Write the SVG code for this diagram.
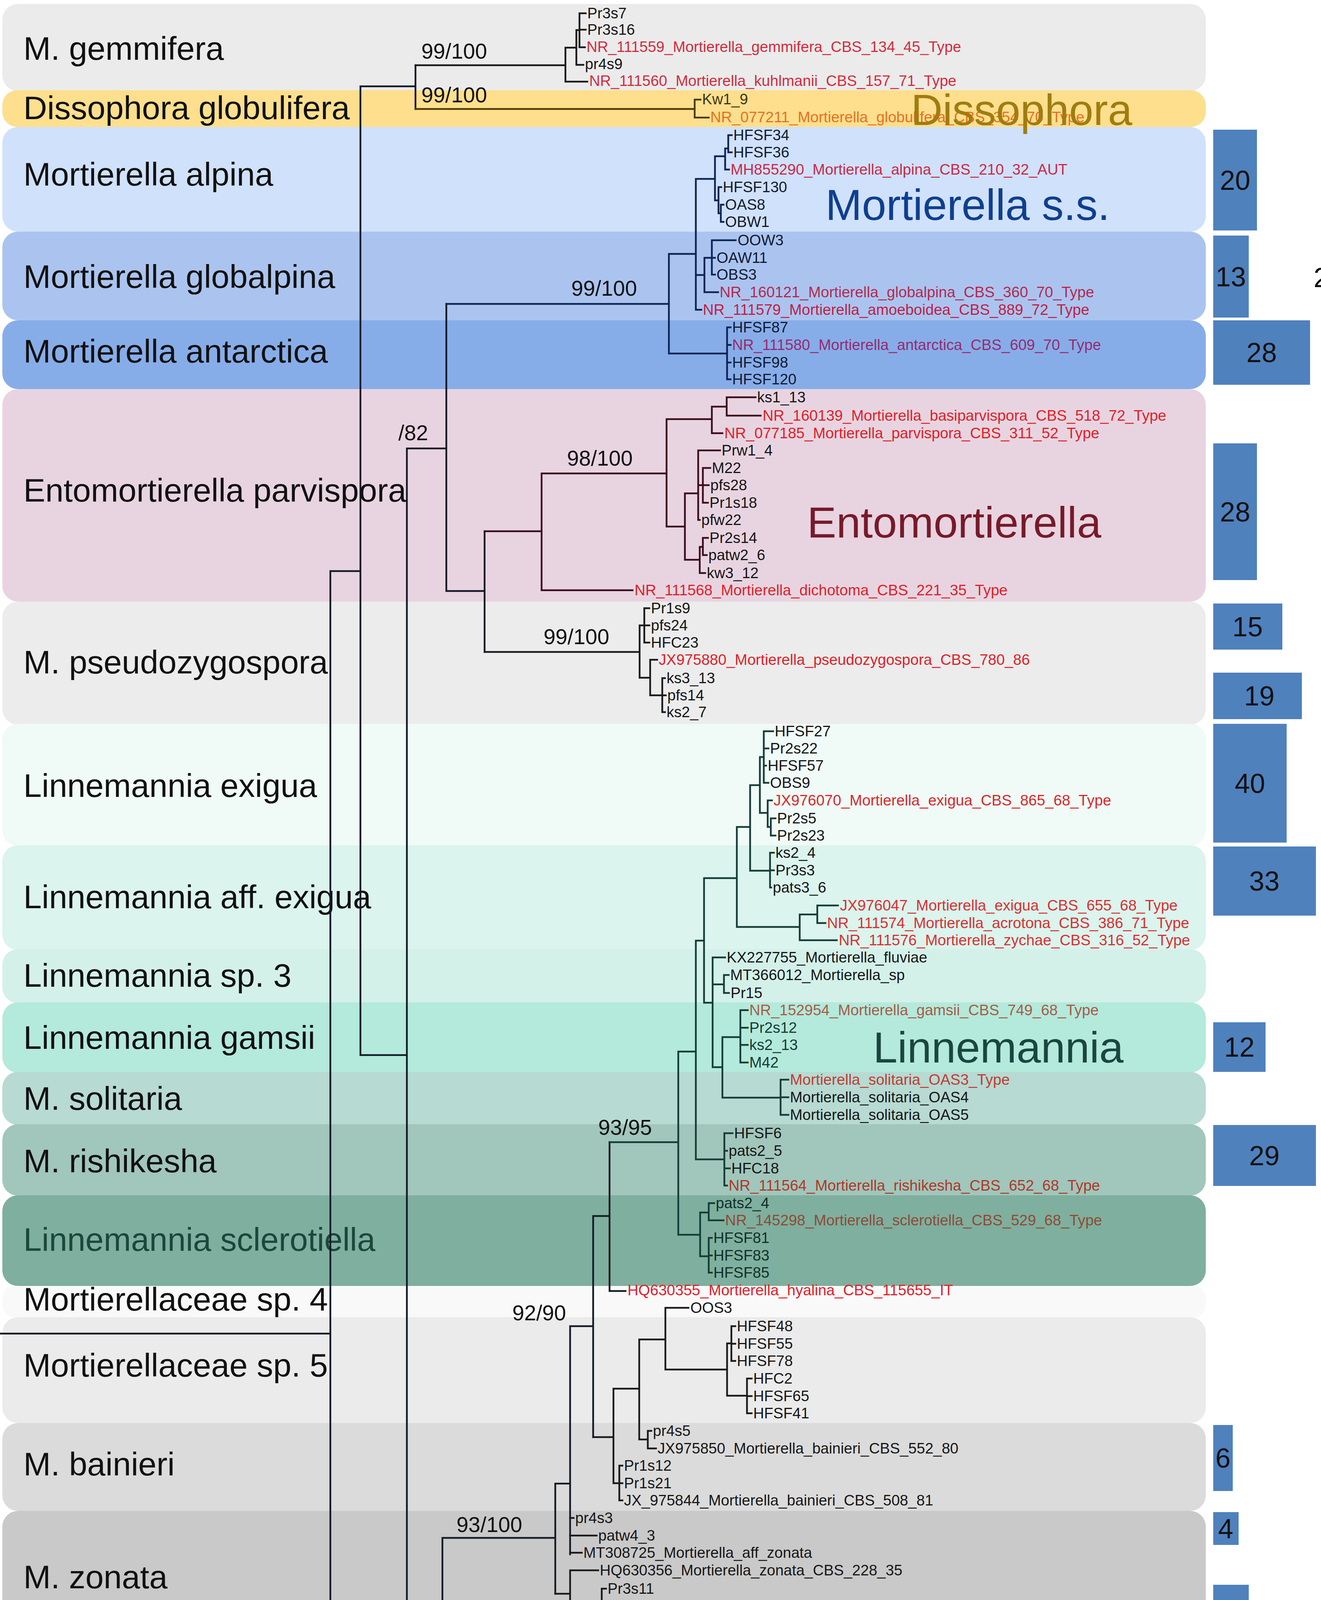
<svg xmlns="http://www.w3.org/2000/svg" width="3383" height="5843" viewBox="0 0 3383 5843">
<style>
text{font-family:"Liberation Sans",Arial,sans-serif}
.cl{font-size:84px;fill:#111}
.lf{font-size:38.5px;fill:#161616}
.sp{font-size:55px;fill:#111}
.gn{font-size:112px}
.num{font-size:70px;fill:#111;text-anchor:middle}
.bar{fill:#4f81bd}
.t{fill:none;stroke-width:4.5;stroke-linecap:square}
.r{fill:#e01e28}
</style>
<rect x="0" y="0" width="3383" height="5843" fill="#ffffff"/>
<g id="bands">
<rect x="6" y="10" width="3082" height="223" rx="40" fill="#ebebeb"/>
<rect x="6" y="231" width="3082" height="94" rx="38" fill="#fddf8d"/>
<rect x="6" y="325" width="3082" height="268" rx="40" fill="#d0e1fb"/>
<rect x="6" y="593" width="3082" height="227" rx="40" fill="#abc4ef"/>
<rect x="6" y="820" width="3082" height="176" rx="40" fill="#87ade9"/>
<rect x="6" y="996" width="3082" height="544" rx="40" fill="#e8d4e0"/>
<rect x="6" y="1540" width="3082" height="315" rx="40" fill="#ececec"/>
<rect x="6" y="1853" width="3082" height="312" rx="40" fill="#f0faf7"/>
<rect x="6" y="2164" width="3082" height="268" rx="40" fill="#dbf4ed"/>
<rect x="6" y="2430" width="3082" height="138" rx="40" fill="#d3f1e9"/>
<rect x="6" y="2566" width="3082" height="180" rx="40" fill="#b3eadb"/>
<rect x="6" y="2744" width="3082" height="136" rx="40" fill="#b7dad2"/>
<rect x="6" y="2878" width="3082" height="183" rx="40" fill="#a1c6bb"/>
<rect x="6" y="3060" width="3082" height="232" rx="40" fill="#7faf9e"/>
<rect x="6" y="3292" width="3082" height="80" rx="30" fill="#f9f9f9"/>
<rect x="6" y="3372" width="3082" height="271" rx="40" fill="#ebebeb"/>
<rect x="6" y="3643" width="3082" height="225" rx="40" fill="#dbdbdb"/>
<rect x="6" y="3868" width="3082" height="357" rx="40" fill="#c9c9c9"/>
<rect x="6" y="4225" width="3082" height="187" rx="40" fill="#ececfd"/>
<rect x="6" y="4410" width="3082" height="350" rx="40" fill="#cdcdfa"/>
<rect x="6" y="4760" width="3082" height="407" rx="40" fill="#b2b2f7"/>
<rect x="0" y="5261" width="3090" height="354" fill="#d9d9d9"/>
<rect x="6" y="5615" width="3082" height="150" rx="40" fill="#fdc79a"/>
</g>
<g id="clade-labels">
<text class="cl" x="60" y="153">M. gemmifera</text>
<text class="cl" x="60" y="305">Dissophora globulifera</text>
<text class="cl" x="60" y="475">Mortierella alpina</text>
<text class="cl" x="60" y="737">Mortierella globalpina</text>
<text class="cl" x="60" y="928">Mortierella antarctica</text>
<text class="cl" x="60" y="1284">Entomortierella parvispora</text>
<text class="cl" x="60" y="1724">M. pseudozygospora</text>
<text class="cl" x="60" y="2040">Linnemannia exigua</text>
<text class="cl" x="60" y="2325">Linnemannia aff. exigua</text>
<text class="cl" x="60" y="2526">Linnemannia sp. 3</text>
<text class="cl" x="60" y="2685">Linnemannia gamsii</text>
<text class="cl" x="60" y="2841">M. solitaria</text>
<text class="cl" x="60" y="3001">M. rishikesha</text>
<text class="cl" x="60" y="3202" style="fill:#1c473c">Linnemannia sclerotiella</text>
<text class="cl" x="60" y="3355">Mortierellaceae sp. 4</text>
<text class="cl" x="60" y="3524">Mortierellaceae sp. 5</text>
<text class="cl" x="60" y="3777">M. bainieri</text>
<text class="cl" x="60" y="4066">M. zonata</text>
<text class="cl" x="60" y="4350">Podila clonocystis</text>
<text class="cl" x="60" y="4621">Podila verticillata/humilis</text>
<text class="cl" x="60" y="4992">Podila horticola</text>
<text class="cl" x="60" y="5236" font-style="italic">Mortierellaceae sp. 2</text>
<text class="cl" x="60" y="5465">M. angusta</text>
<text class="cl" x="60" y="5706">Gamsiella sp. 1</text>
</g>
<g id="connectors">
<path class="t" stroke="#141a26" d="M0 3414H846M846 1462V5363M846 1462H923M923 221V2701M923 221H1064M1064 167V279M923 2701H1042M1042 1148V4257M1042 1148H1143M1143 778V1513M1143 1513H1241M1241 1360V1669M1042 4257H1133M1133 3937V4579M1133 3937H1422M1422 3798V4080M1422 3798H1460M1460 3395V3979M1460 3395H1519M1519 3113V3679M1519 3113H1561M1561 2924V3305M1561 3305H1602M846 5363H917M917 5210V5516M917 5210H1316M917 5516H1003M1003 5365V5670"/>
<path class="t" stroke="#1a1a1a" d="M1064 167H1448M1448 122V209M1448 122H1476M1448 209H1504M1476 77V166M1476 166H1494M1476 77H1484M1484 34V121M1484 34H1500M1484 76H1500M1484 121H1498"/>
<path class="t" stroke="#4a3a08" d="M1064 279H1779M1779 255V301M1779 255H1794M1779 301H1815"/>
<path class="t" stroke="#0c2354" d="M1143 778H1713M1713 650V905M1713 650H1782M1782 458V793M1782 458H1831M1831 400V513M1831 400H1857M1857 380V434M1857 380H1865M1865 346V390M1865 346H1874M1865 390H1874M1857 434H1867M1831 513H1840M1840 479V546M1840 479H1847M1840 546H1846M1846 524V568M1846 524H1853M1846 568H1853M1782 704H1804M1804 660V748M1804 660H1823M1823 615V703M1823 615H1884M1823 660H1831M1823 703H1831M1804 748H1839M1782 793H1796M1713 905H1862M1862 838V971M1862 838H1871M1862 883H1871M1862 928H1871M1862 971H1871"/>
<path class="t" stroke="#3a0d1c" d="M1241 1360H1387M1387 1212V1511M1387 1212H1707M1707 1073V1348M1707 1073H1823M1823 1041V1109M1823 1041H1861M1861 1017V1064M1861 1017H1935M1861 1064H1948M1823 1109H1850M1707 1348H1754M1754 1263V1433M1754 1263H1788M1788 1153V1331M1788 1153H1844M1788 1242H1800M1800 1198V1287M1800 1198H1819M1800 1242H1815M1800 1287H1813M1788 1331H1792M1754 1433H1792M1792 1400V1467M1792 1400H1800M1800 1377V1421M1800 1377H1813M1800 1421H1810M1792 1467H1806M1387 1511H1620"/>
<path class="t" stroke="#1a1a1a" d="M1241 1669H1638M1638 1601V1735M1638 1601H1650M1650 1557V1645M1650 1557H1663M1650 1601H1663M1650 1645H1663M1638 1735H1665M1665 1689V1780M1665 1689H1683M1665 1780H1696M1696 1736V1823M1696 1736H1703M1696 1780H1705M1696 1823H1703"/>
<path class="t" stroke="#143d37" d="M1561 2924H1737M1737 2692V3161M1737 2692H1782M1782 2408V2968M1782 2408H1803M1803 2248V2567M1803 2248H1887M1887 2117V2373M1887 2117H1921M1921 2010V2229M1921 2010H1946M1946 1938V2081M1946 1938H1956M1956 1872V2004M1956 1872H1980M1956 1916H1968M1956 1960H1962M1956 2004H1968M1946 2081H1966M1966 2049V2117M1966 2049H1977M1966 2117H1974M1974 2095V2139M1974 2095H1986M1974 2139H1986M1921 2229H1972M1972 2183V2272M1972 2183H1982M1972 2228H1982M1972 2272H1975M1887 2373H2048M2048 2341V2407M2048 2341H2093M2093 2318V2363M2093 2318H2146M2093 2363H2114M2048 2407H2143M1803 2567H1825M1825 2451V2732M1825 2451H1857M1825 2520H1854M1854 2496V2542M1854 2496H1866M1854 2542H1867M1825 2732H1850M1850 2655V2810M1850 2655H1896M1896 2586V2720M1896 2586H1915M1896 2631H1915M1896 2675H1915M1896 2720H1915M1850 2810H1999M1999 2764V2854M1999 2764H2019M1999 2809H2019M1999 2854H2019M1782 2968H1855M1855 2901V3035M1855 2901H1876M1855 2946H1862M1855 2991H1869M1855 3035H1862M1737 3161H1793M1793 3104V3216M1793 3104H1815M1815 3080V3124M1815 3080H1829M1815 3124H1853M1793 3216H1815M1815 3169V3258M1815 3169H1823M1815 3214H1823M1815 3258H1823"/>
<path class="t" stroke="#1a1a1a" d="M1519 3679H1571M1571 3555V3797M1571 3555H1637M1637 3429V3685M1637 3429H1704M1704 3348V3506M1704 3348H1763M1704 3506H1862M1862 3439V3573M1862 3439H1873M1873 3395V3484M1873 3395H1883M1873 3440H1883M1873 3484H1883M1862 3573H1913M1913 3529V3618M1913 3529H1925M1913 3574H1925M1913 3618H1925M1637 3685H1659M1659 3663V3708M1659 3663H1668M1659 3708H1680M1571 3797H1586M1586 3752V3841M1586 3752H1594M1586 3797H1594M1586 3841H1594M1460 3886H1469M1460 3931H1528M1460 3975H1490M1422 4080H1460M1460 4020V4136M1460 4020H1532M1460 4136H1541M1541 4067V4201M1541 4067H1552M1541 4112H1552M1541 4157H1552M1541 4201H1552"/>
<path class="t" stroke="#121448" d="M1133 4579H1689M1689 4335V4847M1689 4335H1703M1703 4289V4382M1703 4289H1710M1710 4248V4337M1710 4248H1716M1710 4292H1716M1710 4337H1716M1703 4382H1710M1689 4554H1738M1738 4426V4739M1738 4426H1746M1738 4471H1748M1738 4515H1746M1738 4626H1752M1752 4560V4694M1752 4560H1766M1752 4605H1767M1752 4649H1770M1752 4694H1770M1738 4739H1746M1689 4847H1705M1705 4783V4908M1705 4783H1716M1705 4908H1777M1777 4828V5020M1777 4828H1785M1777 4873H1785M1777 4917H1785M1777 5020H1798M1798 4962V5080M1798 4962H1803M1798 5080H1805M1805 5007V5140M1805 5007H1817M1805 5051H1819M1805 5096H1817M1805 5140H1817"/>
<path class="t" stroke="#1a1a1a" d="M1316 5186V5230M1316 5186H1352M1316 5230H1352M1003 5365H1504M1504 5274V5458M1504 5274H2150M1504 5458H1536M1536 5320V5587M1536 5320H1545M1536 5365H1545M1536 5409H1545M1536 5452H1545M1536 5498H1545M1536 5544H1545M1536 5587H1545"/>
<path class="t" stroke="#6b3a12" d="M1003 5670H1247M1247 5633V5704M1247 5633H1622M1247 5704H1860M1860 5678V5722M1860 5678H1868M1860 5722H1868"/>
</g>
<g id="support">
<text class="sp" x="1079" y="150">99/100</text>
<text class="sp" x="1079" y="262">99/100</text>
<text class="sp" x="1463" y="757">99/100</text>
<text class="sp" x="1020" y="1127">/82</text>
<text class="sp" x="1452" y="1192">98/100</text>
<text class="sp" x="1392" y="1649">99/100</text>
<text class="sp" x="1532" y="2905">93/95</text>
<text class="sp" x="1312" y="3380">92/90</text>
<text class="sp" x="1169" y="3922">93/100</text>
<text class="sp" x="1435" y="4550">99/100</text>
<text class="sp" x="1258" y="5341">98/100</text>
<text class="sp" x="787" y="5416">/90</text>
<text class="sp" x="863" y="5575">/88</text>
</g>
<g id="leaves-gemmifera">
<text class="lf" x="1504" y="47">Pr3s7</text>
<text class="lf" x="1504" y="89">Pr3s16</text>
<text class="lf" x="1502" y="133" style="fill:#d42a3c">NR_111559_Mortierella_gemmifera_CBS_134_45_Type</text>
<text class="lf" x="1498" y="177">pr4s9</text>
<text class="lf" x="1509" y="220" style="fill:#d42a3c">NR_111560_Mortierella_kuhlmanii_CBS_157_71_Type</text>
</g>
<g id="leaves-dissophora">
<text class="lf" x="1798" y="267" style="fill:#3d3510">Kw1_9</text>
<text class="lf" x="1819" y="313" style="fill:#e8701e">NR_077211_Mortierella_globulifera_CBS_354_70_Type</text>
</g>
<g id="leaves-mortierella">
<text class="lf" x="1878" y="359" style="fill:#101a30">HFSF34</text>
<text class="lf" x="1878" y="403" style="fill:#101a30">HFSF36</text>
<text class="lf" x="1871" y="447" style="fill:#c8284a">MH855290_Mortierella_alpina_CBS_210_32_AUT</text>
<text class="lf" x="1851" y="492" style="fill:#101a30">HFSF130</text>
<text class="lf" x="1857" y="537" style="fill:#101a30">OAS8</text>
<text class="lf" x="1857" y="581" style="fill:#101a30">OBW1</text>
<text class="lf" x="1889" y="628" style="fill:#101a30">OOW3</text>
<text class="lf" x="1835" y="673" style="fill:#101a30">OAW11</text>
<text class="lf" x="1835" y="716" style="fill:#101a30">OBS3</text>
<text class="lf" x="1843" y="761" style="fill:#b4284f">NR_160121_Mortierella_globalpina_CBS_360_70_Type</text>
<text class="lf" x="1800" y="806" style="fill:#be1e46">NR_111579_Mortierella_amoeboidea_CBS_889_72_Type</text>
<text class="lf" x="1875" y="851" style="fill:#101a30">HFSF87</text>
<text class="lf" x="1875" y="896" style="fill:#962a6e">NR_111580_Mortierella_antarctica_CBS_609_70_Type</text>
<text class="lf" x="1875" y="941" style="fill:#101a30">HFSF98</text>
<text class="lf" x="1875" y="984" style="fill:#101a30">HFSF120</text>
</g>
<g id="leaves-entomortierella">
<text class="lf" x="1939" y="1030">ks1_13</text>
<text class="lf r" x="1953" y="1077">NR_160139_Mortierella_basiparvispora_CBS_518_72_Type</text>
<text class="lf r" x="1855" y="1122">NR_077185_Mortierella_parvispora_CBS_311_52_Type</text>
<text class="lf" x="1848" y="1166">Prw1_4</text>
<text class="lf" x="1823" y="1211">M22</text>
<text class="lf" x="1819" y="1255">pfs28</text>
<text class="lf" x="1817" y="1300">Pr1s18</text>
<text class="lf" x="1796" y="1344">pfw22</text>
<text class="lf" x="1817" y="1390">Pr2s14</text>
<text class="lf" x="1814" y="1434">patw2_6</text>
<text class="lf" x="1810" y="1480">kw3_12</text>
<text class="lf r" x="1625" y="1524">NR_111568_Mortierella_dichotoma_CBS_221_35_Type</text>
</g>
<g id="leaves-pseudozygospora">
<text class="lf" x="1667" y="1570">Pr1s9</text>
<text class="lf" x="1667" y="1614">pfs24</text>
<text class="lf" x="1667" y="1658">HFC23</text>
<text class="lf r" x="1687" y="1702">JX975880_Mortierella_pseudozygospora_CBS_780_86</text>
<text class="lf" x="1707" y="1749">ks3_13</text>
<text class="lf" x="1709" y="1793">pfs14</text>
<text class="lf" x="1707" y="1836">ks2_7</text>
</g>
<g id="leaves-linnemannia">
<text class="lf" x="1984" y="1885">HFSF27</text>
<text class="lf" x="1972" y="1929">Pr2s22</text>
<text class="lf" x="1966" y="1973">HFSF57</text>
<text class="lf" x="1972" y="2017">OBS9</text>
<text class="lf" x="1981" y="2062" style="fill:#d82828">JX976070_Mortierella_exigua_CBS_865_68_Type</text>
<text class="lf" x="1990" y="2108">Pr2s5</text>
<text class="lf" x="1990" y="2152">Pr2s23</text>
<text class="lf" x="1986" y="2196">ks2_4</text>
<text class="lf" x="1986" y="2241">Pr3s3</text>
<text class="lf" x="1979" y="2285">pats3_6</text>
<text class="lf" x="2151" y="2331" style="fill:#d83030">JX976047_Mortierella_exigua_CBS_655_68_Type</text>
<text class="lf" x="2118" y="2376" style="fill:#d83030">NR_111574_Mortierella_acrotona_CBS_386_71_Type</text>
<text class="lf" x="2148" y="2420" style="fill:#d83030">NR_111576_Mortierella_zychae_CBS_316_52_Type</text>
<text class="lf" x="1861" y="2464">KX227755_Mortierella_fluviae</text>
<text class="lf" x="1870" y="2509">MT366012_Mortierella_sp</text>
<text class="lf" x="1871" y="2555">Pr15</text>
<text class="lf" x="1919" y="2599" style="fill:#aa5a46">NR_152954_Mortierella_gamsii_CBS_749_68_Type</text>
<text class="lf" x="1919" y="2644" style="fill:#183a34">Pr2s12</text>
<text class="lf" x="1919" y="2688" style="fill:#183a34">ks2_13</text>
<text class="lf" x="1919" y="2733" style="fill:#183a34">M42</text>
<text class="lf" x="2023" y="2777" style="fill:#be3c32">Mortierella_solitaria_OAS3_Type</text>
<text class="lf" x="2023" y="2822">Mortierella_solitaria_OAS4</text>
<text class="lf" x="2023" y="2867">Mortierella_solitaria_OAS5</text>
<text class="lf" x="1880" y="2914">HFSF6</text>
<text class="lf" x="1866" y="2959">pats2_5</text>
<text class="lf" x="1873" y="3004">HFC18</text>
<text class="lf" x="1866" y="3048" style="fill:#af3728">NR_111564_Mortierella_rishikesha_CBS_652_68_Type</text>
<text class="lf" x="1833" y="3093" style="fill:#10302a">pats2_4</text>
<text class="lf" x="1857" y="3137" style="fill:#8c4b37">NR_145298_Mortierella_sclerotiella_CBS_529_68_Type</text>
<text class="lf" x="1827" y="3182" style="fill:#10302a">HFSF81</text>
<text class="lf" x="1827" y="3227" style="fill:#10302a">HFSF83</text>
<text class="lf" x="1827" y="3271" style="fill:#10302a">HFSF85</text>
<text class="lf" x="1607" y="3316" style="fill:#e0202a">HQ630355_Mortierella_hyalina_CBS_115655_IT</text>
</g>
<g id="leaves-mortierellaceae">
<text class="lf" x="1768" y="3361">OOS3</text>
<text class="lf" x="1887" y="3408">HFSF48</text>
<text class="lf" x="1887" y="3453">HFSF55</text>
<text class="lf" x="1887" y="3497">HFSF78</text>
<text class="lf" x="1929" y="3542">HFC2</text>
<text class="lf" x="1929" y="3587">HFSF65</text>
<text class="lf" x="1929" y="3631">HFSF41</text>
<text class="lf" x="1672" y="3676">pr4s5</text>
<text class="lf" x="1684" y="3721">JX975850_Mortierella_bainieri_CBS_552_80</text>
<text class="lf" x="1598" y="3765">Pr1s12</text>
<text class="lf" x="1598" y="3810">Pr1s21</text>
<text class="lf" x="1598" y="3854">JX_975844_Mortierella_bainieri_CBS_508_81</text>
<text class="lf" x="1473" y="3899">pr4s3</text>
<text class="lf" x="1532" y="3944">patw4_3</text>
<text class="lf" x="1494" y="3988">MT308725_Mortierella_aff_zonata</text>
<text class="lf" x="1536" y="4033">HQ630356_Mortierella_zonata_CBS_228_35</text>
<text class="lf" x="1556" y="4080">Pr3s11</text>
<text class="lf" x="1556" y="4125">ks2_2</text>
<text class="lf" x="1556" y="4170">patw2_7</text>
<text class="lf" x="1556" y="4214">ks1_7</text>
</g>
<g id="leaves-podila">
<text class="lf" x="1720" y="4261" style="fill:#15163d">HFSF47</text>
<text class="lf" x="1720" y="4305" style="fill:#15163d">HFSF11</text>
<text class="lf" x="1720" y="4350" style="fill:#15163d">HFC24</text>
<text class="lf" x="1714" y="4395" style="fill:#c81e3c">NR_111570_Mortierella_clonocystis_CBS_357_76_Type</text>
<text class="lf" x="1750" y="4439" style="fill:#15163d">Pr2s18</text>
<text class="lf" x="1752" y="4484" style="fill:#15163d">ks1_2</text>
<text class="lf" x="1750" y="4528" style="fill:#15163d">Pr2s16</text>
<text class="lf" x="1770" y="4573" style="fill:#15163d">M26</text>
<text class="lf" x="1771" y="4618" style="fill:#15163d">ks3_1</text>
<text class="lf" x="1774" y="4662" style="fill:#c8145a">NR_154053_Mortierella_verticillata_CBS_220_58_Type</text>
<text class="lf" x="1774" y="4707" style="fill:#c8145a">NR_077209_Mortierella_humilis_CBS_222_35_Type</text>
<text class="lf" x="1750" y="4752" style="fill:#15163d">HFC14</text>
<text class="lf" x="1720" y="4796" style="fill:#aa1464">NR_111571_Mortierella_epicladia_CBS_355_76_Type</text>
<text class="lf" x="1789" y="4841" style="fill:#15163d">HFSF52</text>
<text class="lf" x="1789" y="4886" style="fill:#15163d">HFC26</text>
<text class="lf" x="1789" y="4930" style="fill:#aa1464">HQ630323_Mortierella_minutissima_var_dubia_CBS_307_52_ST</text>
<text class="lf" x="1807" y="4975" style="fill:#aa1464">NR_111572_Mortierella_horticola_CBS_305_52_Type</text>
<text class="lf" x="1821" y="5020" style="fill:#15163d">HFC7</text>
<text class="lf" x="1823" y="5064" style="fill:#15163d">M15</text>
<text class="lf" x="1821" y="5109" style="fill:#15163d">MH860119_Mortierella_minutissima_CBS_277_71</text>
<text class="lf" x="1821" y="5153" style="fill:#15163d">MH860120_Mortierella_minutissima_CBS_278_71</text>
</g>
<g id="leaves-angusta">
<text class="lf" x="1359" y="5199">OBS4</text>
<text class="lf" x="1359" y="5243">KC008734_Mortierella_sp</text>
<text class="lf" x="2158" y="5287">pfw8</text>
<text class="lf" x="1549" y="5333">MT380906_Mortierella_simplex</text>
<text class="lf" x="1549" y="5378">MT380907_Mortierella_simplex</text>
<text class="lf" x="1549" y="5422">pfs8</text>
<text class="lf" x="1549" y="5465">pr4s7</text>
<text class="lf" x="1549" y="5511">ks1_4</text>
<text class="lf" x="1549" y="5557">MH859223_Mortierella_simplex_CBS_751_68</text>
<text class="lf" x="1549" y="5600" style="fill:#e02020">NR_111555_Mortierella_angusta_CBS_293_61_Type</text>
</g>
<g id="leaves-gamsiella">
<text class="lf" x="1629" y="5646" style="fill:#eb501e">NR_111556_Mortierella_stylospora_CBS_211_32_Type</text>
<text class="lf" x="1873" y="5691" style="fill:#2a1a10">Kw3_9</text>
<text class="lf" x="1873" y="5735" style="fill:#2a1a10">HQ021782_Uncultured_Mortierella_clone</text>
</g>
<g id="genus-labels">
<text class="gn" x="2333" y="320" fill="#a07c10">Dissophora</text>
<text class="gn" x="2114" y="563" fill="#0e3f8f">Mortierella s.s.</text>
<text class="gn" x="2067" y="1376" fill="#771a2a">Entomortierella</text>
<text class="gn" x="2236" y="2720" fill="#1b4640">Linnemannia</text>
<text class="gn" x="2662" y="4573" fill="#8a68c8">Podila</text>
<text class="gn" x="2449" y="5724" fill="#f07d23">Gamsiella</text>
</g>
<g id="bars">
<rect class="bar" x="3107" y="332" width="112" height="258"/><text class="num" x="3163" y="486">20</text>
<rect class="bar" x="3107" y="603" width="91" height="210"/><text class="num" x="3152" y="733">13</text>
<rect class="bar" x="3107" y="820" width="248" height="165"/><text class="num" x="3231" y="927">28</text>
<rect class="bar" x="3107" y="1135" width="112" height="350"/><text class="num" x="3163" y="1335">28</text>
<rect class="bar" x="3107" y="1545" width="177" height="118"/><text class="num" x="3195" y="1629">15</text>
<rect class="bar" x="3107" y="1722" width="227" height="119"/><text class="num" x="3225" y="1806">19</text>
<rect class="bar" x="3107" y="1853" width="188" height="304"/><text class="num" x="3201" y="2030">40</text>
<rect class="bar" x="3107" y="2167" width="263" height="177"/><text class="num" x="3238" y="2280">33</text>
<rect class="bar" x="3107" y="2617" width="134" height="127"/><text class="num" x="3174" y="2705">12</text>
<rect class="bar" x="3107" y="2880" width="263" height="156"/><text class="num" x="3238" y="2983">29</text>
<rect class="bar" x="3107" y="3648" width="50" height="169"/><text class="num" x="3132" y="3757">6</text>
<rect class="bar" x="3107" y="3871" width="65" height="84"/><text class="num" x="3139" y="3938">4</text>
<rect class="bar" x="3107" y="4057" width="91" height="168"/><text class="num" x="3152" y="4166">11</text>
<rect class="bar" x="3107" y="4233" width="54" height="131"/><text class="num" x="3134" y="4323">5</text>
<rect class="bar" x="3107" y="4406" width="263" height="351"/><text class="num" x="3238" y="4606">65</text>
<rect class="bar" x="3107" y="4815" width="86" height="350"/><text class="num" x="3150" y="5015">22</text>
<rect class="bar" x="3107" y="5299" width="112" height="223"/><text class="num" x="3163" y="5435">18</text>
<text x="3364" y="735" style="font-size:70px;fill:#111">2</text>
</g>
<g id="scale-bar">
<path d="M772 5786H923" stroke="#111" stroke-width="6" fill="none"/>
<text x="848" y="5836" text-anchor="middle" style="font-size:40px;fill:#111">0.05</text>
</g>
</svg>
